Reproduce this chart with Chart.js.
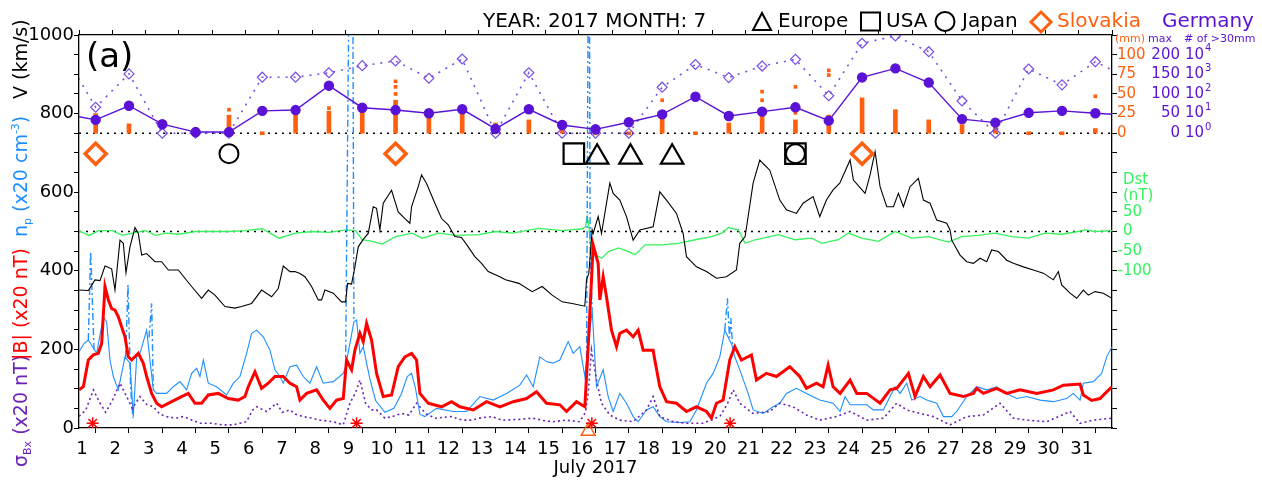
<!DOCTYPE html>
<html><head><meta charset="utf-8">
<script src="https://cdn.jsdelivr.net/npm/chart.js"></script>
<style>html,body{margin:0;padding:0;background:#fff;}canvas{display:block;}</style>
</head><body>
<canvas id="c" width="1262" height="482"></canvas>
<script>
// ---------------- data ----------------
const dayMin = 1, dayMax = 32;
const dayTicks = [1,2,3,4,5,6,7,8,9,10,11,12,13,14,15,16,17,18,19,20,21,22,23,24,25,26,27,28,29,30,31];

// solar wind speed V (km/s)
const vDay = [1.0,1.28,1.48,1.63,1.78,1.98,2.08,2.23,2.33,2.41,2.53,2.68,2.78,2.88,3.03,3.28,3.48,3.68,3.98,4.18,4.38,4.68,4.88,5.08,5.38,5.68,5.88,6.18,6.48,6.78,6.98,7.13,7.33,7.48,7.63,7.78,7.98,8.18,8.28,8.38,8.63,8.88,9.0,9.06,9.18,9.28,9.38,9.53,9.68,9.83,9.93,10.03,10.13,10.38,10.58,10.78,10.93,10.98,11.18,11.28,11.43,11.68,11.88,12.08,12.28,12.48,12.68,12.88,13.08,13.28,13.63,13.8,14.2,14.6,14.9,15.2,15.5,15.8,16.18,16.23,16.3,16.4,16.43,16.58,16.68,16.93,17.03,17.23,17.43,17.63,17.83,18.23,18.43,18.63,18.93,19.13,19.23,19.53,19.83,20.13,20.43,20.73,20.83,20.99,21.23,21.43,21.53,21.73,22.03,22.23,22.53,22.73,23.03,23.23,23.43,23.63,23.83,24.14,24.24,24.59,24.74,24.89,25.04,25.24,25.44,25.59,25.74,25.94,26.19,26.34,26.54,26.74,27.04,27.14,27.19,27.44,27.64,27.84,28.04,28.24,28.39,28.59,28.84,29.04,29.34,29.64,29.94,30.24,30.39,30.49,30.74,30.94,31.14,31.29,31.49,31.74,32.0];
const vKms = [351,350,377,375,412,405,351,478,470,395,461,510,495,440,444,423,423,402,402,381,360,330,351,338,309,305,309,317,351,334,355,412,398,398,393,385,360,326,326,351,343,321,321,368,366,410,461,480,495,563,559,504,572,605,550,533,521,563,614,644,622,572,533,517,487,485,461,436,419,398,385,377,368,347,360,338,321,317,310,377,394,504,495,538,495,623,597,580,538,478,504,512,601,580,546,495,436,410,398,381,385,402,470,487,623,682,673,656,580,555,546,572,589,538,580,606,623,682,631,597,644,703,614,563,563,597,563,614,635,580,572,529,521,504,478,440,423,419,432,423,453,449,427,419,410,402,394,377,398,364,343,330,351,338,347,343,330];

// proton density n_p (x20 cm^-3)
const npDay = [1.0,1.15,1.28,1.53,1.73,1.83,1.93,2.03,2.18,2.28,2.38,2.53,2.63,2.73,2.83,3.03,3.23,3.33,3.63,3.83,4.03,4.23,4.38,4.53,4.63,4.73,4.88,5.13,5.43,5.63,5.83,6.03,6.18,6.33,6.53,6.73,6.88,7.03,7.13,7.33,7.53,7.73,7.93,8.13,8.33,8.63,8.93,9.0,9.25,9.33,9.43,9.53,9.63,9.73,9.9,10.18,10.45,10.68,10.85,10.98,11.1,11.23,11.38,11.73,12.23,12.63,13.03,13.43,13.83,14.23,14.43,14.63,14.83,15.03,15.23,15.43,15.68,15.83,16.03,16.18,16.4,16.53,16.73,16.88,17.03,17.23,17.43,17.63,17.78,18.03,18.23,18.43,18.63,19.03,19.33,19.53,19.83,20.03,20.23,20.38,20.6,20.68,20.83,21.08,21.23,21.53,21.83,22.03,22.23,22.53,22.83,23.23,23.63,23.84,23.99,24.14,24.64,24.84,25.14,25.34,25.49,25.64,25.84,25.99,26.24,26.44,26.74,26.94,27.19,27.34,27.64,27.94,28.24,28.54,28.84,29.14,29.44,29.84,30.24,30.64,30.84,31.04,31.14,31.44,31.69,31.84,32.0];
const npX20 = [194,215,224,190,283,270,173,131,97,139,181,165,29,181,190,249,97,88,88,105,118,97,139,152,131,173,114,105,84,114,131,190,241,249,232,198,148,131,114,156,160,131,114,156,114,118,139,156,270,275,190,207,165,125,70,40,50,88,131,139,100,35,29,50,42,42,80,71,88,109,135,105,181,169,165,173,220,190,207,131,300,105,148,80,42,88,63,29,16,46,54,29,16,14,16,46,114,139,181,249,210,181,148,88,46,37,54,63,88,101,88,71,63,42,80,59,59,46,46,80,105,88,114,71,80,71,63,29,29,42,80,105,97,105,88,75,80,71,67,75,88,71,114,118,139,181,207];
// density spikes drawn dash-dot (null = break)
const npSpikeDay = [1.28,1.35,1.45,1.46, 2.40,2.47,2.55,2.62,2.63, 3.10,3.18,3.23,3.24, 9.0,9.12,9.13, 9.21,9.25,9.26, 16.23,16.29,16.30, 16.31,16.34,16.4,16.41, 20.38,20.46,20.52,20.56,20.62];
const npSpikeX20 = [224,449,200,null, 181,365,100,25,null, 230,317,97,null, 156,1300,null, 1300,275,null, 140,1300,null, 1300,453,300,null, 249,330,230,280,200];

// |B| (x20 nT)
const bDay = [1.0,1.13,1.28,1.43,1.58,1.68,1.78,1.88,1.98,2.08,2.18,2.38,2.48,2.58,2.78,2.93,3.03,3.18,3.33,3.48,3.78,4.08,4.28,4.48,4.68,4.88,5.18,5.48,5.78,5.98,6.08,6.28,6.48,6.68,6.88,7.13,7.33,7.53,7.63,7.83,8.13,8.33,8.53,8.73,8.93,9.03,9.18,9.28,9.43,9.53,9.63,9.78,9.93,10.13,10.38,10.58,10.78,10.98,11.13,11.23,11.48,11.88,12.18,12.43,12.83,13.23,13.63,14.03,14.43,14.73,15.03,15.43,15.63,15.93,16.18,16.28,16.38,16.43,16.58,16.63,16.73,16.83,16.98,17.13,17.23,17.43,17.63,17.78,17.93,18.23,18.28,18.43,18.63,18.93,19.23,19.53,19.83,19.98,20.13,20.33,20.53,20.68,20.88,21.18,21.33,21.63,21.93,22.33,22.63,22.83,23.13,23.33,23.48,23.63,23.84,24.14,24.34,24.64,25.04,25.34,25.54,25.89,26.09,26.34,26.54,26.84,27.14,27.54,27.84,27.94,28.14,28.54,28.84,29.24,29.74,30.24,30.54,31.04,31.14,31.39,31.64,31.84,32.0];
const bX20 = [97,105,173,186,190,215,360,326,304,300,283,232,181,173,190,165,131,88,63,54,67,80,88,63,63,84,88,75,71,80,105,143,101,114,131,131,114,105,71,88,97,71,50,71,75,173,148,198,241,220,266,224,139,80,84,156,181,190,173,88,63,54,67,54,46,67,54,67,75,92,63,59,42,67,54,207,377,465,419,326,385,334,249,207,241,249,232,249,198,198,173,105,67,63,42,54,42,25,63,71,173,207,173,186,122,139,131,156,131,101,114,105,160,105,88,122,88,88,63,97,101,139,80,131,105,135,88,80,88,101,88,101,88,97,88,97,109,112,84,70,75,92,105];

// sigma Bx (x20 nT)
const sDay = [1.0,1.2,1.43,1.63,1.8,2.0,2.23,2.43,2.6,2.83,3.03,3.23,3.43,3.63,3.9,4.13,4.4,4.63,5.0,5.3,5.63,6.03,6.2,6.33,6.63,6.93,7.1,7.33,7.5,7.73,8.0,8.23,8.63,8.93,9.13,9.3,9.43,9.6,9.78,9.93,10.18,10.4,10.68,10.9,11.13,11.4,11.68,12.18,12.5,12.78,13.0,13.38,13.7,14.23,14.6,15.0,15.23,15.6,16.03,16.2,16.28,16.38,16.53,16.68,16.93,17.23,17.63,18.03,18.23,18.43,18.83,19.23,19.73,20.23,20.45,20.63,20.83,21.23,21.73,22.03,22.43,22.83,23.23,23.73,24.14,24.64,25.14,25.54,25.84,26.24,26.64,27.14,27.64,28.14,28.64,29.04,29.44,30.04,30.74,31.04,31.44,32.0];
const sigX20 = [30,45,97,63,40,70,114,80,50,80,60,54,35,29,25,29,20,12,12,8,8,16,45,54,42,63,40,46,35,29,25,20,16,8,63,90,122,63,46,46,25,29,37,33,63,37,25,29,20,20,25,29,20,22,25,18,16,20,16,40,88,198,122,63,33,20,16,46,80,29,16,12,12,29,60,97,63,37,42,63,54,33,20,29,42,20,25,63,46,37,29,8,29,33,63,25,20,16,42,12,20,25];

// Dst (nT)
const dstDay = [1.0,1.3,1.6,2.0,2.3,2.6,3.0,3.3,3.6,4.0,4.5,5.0,5.5,6.0,6.5,7.0,7.5,8.0,8.5,9.0,9.3,9.5,9.8,10.1,10.5,11.0,11.3,11.8,12.3,13.0,13.5,14.0,14.8,15.5,16.1,16.2,16.25,16.3,16.35,16.49,16.69,16.89,17.19,17.49,17.69,17.99,18.49,18.99,19.49,19.99,20.29,20.49,20.79,20.99,21.29,21.99,22.49,22.99,23.29,23.79,24.09,24.49,24.99,25.49,25.99,26.49,27.09,27.49,27.99,28.49,28.99,29.49,29.99,30.49,30.99,31.19,31.49,32.0];
const dstNT = [2,-10,2,2,-10,-4,2,-10,-4,-7,0,0,0,2,7,-17,-4,0,-2,4,2,-21,-25,-32,-13,-4,-17,-4,-10,-8,0,-4,8,2,7,12,38,15,-35,-59,-68,-51,-42,-51,-59,-34,-34,-30,-21,-13,-4,10,4,-30,-21,-8,-21,-17,-30,-21,-4,-17,-25,0,-17,-13,-27,-13,-10,-4,-13,-17,-4,-7,0,4,0,2];

// Germany daily precipitation (day centres, incl. 30 June and 1 Aug at the edges)
const gerDays = [0.5,1.5,2.5,3.5,4.5,5.5,6.5,7.5,8.5,9.5,10.5,11.5,12.5,13.5,14.5,15.5,16.5,17.5,18.5,19.5,20.5,21.5,22.5,23.5,24.5,25.5,26.5,27.5,28.5,29.5,30.5,31.5,32.5];
const gerMaxMm = [50,34,70,23,3,3,57,59,121,65,59,51,61,11,61,21,10,28,48,93,44,55,66,32,142,165,129,36,27,52,57,51,46];
const gerCount30 = [15800,21,1050,1,1,1,710,710,1200,2750,4800,630,6000,1,1200,1,1,1,220,3160,680,2630,5750,81,38000,89000,14100,44,1,1860,290,4370,630];

// station precipitation (mm): dense column tops and isolated higher values
const precipDays = [1.5,2.5,3.5,4.5,5.5,6.5,7.5,8.5,9.5,10.5,11.5,12.5,13.5,14.5,15.5,16.5,17.5,18.5,19.5,20.5,21.5,22.5,23.5,24.5,25.5,26.5,27.5,28.5,29.5,30.5,31.5];
const precipMm = [25,12,null,null,23,1,23,28,30,42,28,32,13,17,16,2,2,25,1,13,28,17,23,45,30,17,11,8,1,1,6];
const precipDotDays = [5.5,8.5,10.5,10.5,10.5,18.5,21.5,21.5,22.5,22.5,23.5,23.5,31.5];
const precipDotMm = [30,32,50,59,66,42,42,53,26,59,74,80,47];

// event markers
const slovakiaDays = [1.5,10.5,24.5];
const japanDays = [5.5,22.5];
const usaDays = [15.85,22.5];
const europeDays = [16.55,17.55,18.8];
const sscDays = [1.41,9.33,16.39,20.54];
const triangleDays = [16.28];

// right-side tick labels
const mmTicks = [0,25,50,75,100];
const maxTicks = [0,50,100,150,200];
const cntExp = [0,1,2,3,4];
const dstTicks = [50,0,-50,-100];

// ---------------- styling ----------------
const ORANGE = '#ff6010', GREEN = '#36f25e', BLUE = '#1f8fff', RED = '#ff0000',
      SIG = '#6b22b5', GER = '#5a12d6', GER2 = '#7b4fe4';
const FAM = '"DejaVu Sans", sans-serif';
const MARK_LEVEL = 698, TRI_LEVEL = 689, SSC_LEVEL = 12, BOT_TRI_LEVEL = -8;

const pts = (xs, ys) => xs.map((x, i) => ({x, y: ys[i]}));
const lvl = (xs, v) => xs.map(x => ({x, y: v}));
const line = (o) => Object.assign({type:'line', pointRadius:0, borderWidth:1, tension:0, fill:false, xAxisID:'x', yAxisID:'y', spanGaps:false}, o);
const marks = (o) => Object.assign({type:'line', showLine:false, xAxisID:'x', yAxisID:'y', pointBackgroundColor:'rgba(0,0,0,0)'}, o);

const datasets = [
  marks({data: lvl(sscDays, SSC_LEVEL), pointStyle:'star', pointRadius:6, pointBorderColor:RED, pointBorderWidth:1.5, borderColor:RED}),
  marks({data: lvl(triangleDays, BOT_TRI_LEVEL), pointStyle:'triangle', pointRadius:8, pointBorderColor:ORANGE, pointBorderWidth:1.5, borderColor:ORANGE, clip:false}),
  marks({data: lvl(slovakiaDays, MARK_LEVEL), pointStyle:'rectRot', pointRadius:10.5, pointBorderColor:ORANGE, pointBorderWidth:3.5, borderColor:ORANGE}),
  marks({data: lvl(japanDays, MARK_LEVEL), pointStyle:'circle', pointRadius:9.5, pointBorderColor:'#000', pointBorderWidth:2, borderColor:'#000'}),
  marks({data: lvl(usaDays, MARK_LEVEL), pointStyle:'rect', pointRadius:14.5, pointBorderColor:'#000', pointBorderWidth:2.2, borderColor:'#000'}),
  marks({data: lvl(europeDays, TRI_LEVEL), pointStyle:'triangle', pointRadius:13, pointBorderColor:'#000', pointBorderWidth:2.2, borderColor:'#000'}),
  line({data: pts(gerDays, gerMaxMm), yAxisID:'yMax', borderColor:GER, borderWidth:1.4, pointRadius:4.5, pointStyle:'circle', pointBackgroundColor:GER, pointBorderColor:GER}),
  line({data: pts(gerDays, gerCount30), yAxisID:'yCnt', borderColor:GER2, borderWidth:1.6, borderDash:[2,6], pointRadius:5, pointStyle:'rectRot', pointBorderColor:GER2, pointBorderWidth:1.2, pointBackgroundColor:'rgba(0,0,0,0)'}),
  marks({data: pts(precipDotDays, precipDotMm), yAxisID:'yMm', pointStyle:'rect', pointRadius:2.6, pointBorderWidth:0, pointBackgroundColor:ORANGE, borderColor:ORANGE}),
  {type:'bar', xAxisID:'x', yAxisID:'yMm', data: precipDays.map((d,i)=>({x:d, y: precipMm[i]==null? null : [0, precipMm[i]]})).filter(p=>p.y!==null),
   backgroundColor:ORANGE, borderWidth:0, barThickness:4, minBarLength:3, grouped:false},
  line({data: pts(bDay, bX20), borderColor:RED, borderWidth:3}),
  line({data: pts(vDay, vKms), borderColor:'#000', borderWidth:1.1}),
  line({data: pts(sDay, sigX20), borderColor:SIG, borderWidth:1.6, borderDash:[2,3]}),
  line({data: pts(npSpikeDay, npSpikeX20), borderColor:BLUE, borderWidth:1.4, borderDash:[7,3,2,3]}),
  line({data: pts(npDay, npX20), borderColor:BLUE, borderWidth:1.1}),
  line({data: pts(dstDay, dstNT), yAxisID:'yDst', borderColor:GREEN, borderWidth:1.3}),
  line({data: [{x:dayMin,y:0},{x:dayMax,y:0}], yAxisID:'yMm', borderColor:'#000', borderWidth:1.3, borderDash:[2,5]}),
  line({data: [{x:dayMin,y:0},{x:dayMax,y:0}], yAxisID:'yDst', borderColor:'#000', borderWidth:1.3, borderDash:[2,5]})
];

const axisStyle = {
  grid:{drawOnChartArea:false, drawTicks:true, tickLength:5, color:'#000', tickColor:'#000', lineWidth:1},
  border:{display:true, color:'#000', width:1.3}
};

const annot = {
  id:'annot',
  afterDraw(chart){
    const c = chart.ctx, s = chart.scales;
    c.save();
    c.textAlign = 'left'; c.textBaseline = 'alphabetic';
    // header
    c.font = '20px ' + FAM; c.fillStyle = '#000';
    c.fillText('YEAR: 2017 MONTH: 7', 483, 27);
    c.strokeStyle = '#000'; c.lineWidth = 2;
    c.beginPath(); c.moveTo(753,30); c.lineTo(771,30); c.lineTo(762,13); c.closePath(); c.stroke();
    c.fillText('Europe', 778, 27);
    c.strokeRect(861, 12.5, 19, 18);
    c.fillText('USA', 886, 27);
    c.beginPath(); c.arc(945, 21.5, 9.5, 0, Math.PI*2); c.stroke();
    c.fillText('Japan', 962, 27);
    c.strokeStyle = ORANGE; c.lineWidth = 3;
    c.beginPath(); c.moveTo(1041,12); c.lineTo(1051,22); c.lineTo(1041,32); c.lineTo(1031,22); c.closePath(); c.stroke();
    c.fillStyle = ORANGE; c.fillText('Slovakia', 1057, 27);
    c.fillStyle = GER; c.fillText('Germany', 1162, 27);
    // panel tag
    c.fillStyle = '#000'; c.font = '34px ' + FAM; c.fillText('(a)', 86, 67);

    // left rotated axis title
    const vtext = (pieces, x, y0) => {
      c.save(); c.translate(x, y0); c.rotate(-Math.PI/2);
      let p = 0;
      for (const q of pieces){ c.font = q.size + 'px ' + FAM; c.fillStyle = q.color; c.fillText(q.t, p, q.dy||0); p += c.measureText(q.t).width; }
      c.restore();
    };
    vtext([{t:'σ',size:19,color:SIG},{t:'Bx',size:11,dy:4,color:SIG},{t:' (x20 nT)',size:19,color:SIG}], 27, 467);
    vtext([{t:'|B| (x20 nT)',size:19,color:RED}], 27, 360);
    vtext([{t:'n',size:19,color:BLUE},{t:'p',size:11,dy:4,color:BLUE},{t:' (x20 cm',size:19,color:BLUE},{t:'-3',size:11,dy:-8,color:BLUE},{t:')',size:19,color:BLUE}], 27, 237);
    vtext([{t:'V (km/s)',size:19,color:'#000'}], 27, 99);

    // right-side labels
    c.textBaseline = 'middle';
    c.font = '11px ' + FAM;
    c.fillStyle = ORANGE; c.fillText('(mm)', 1115, 39);
    c.fillStyle = GER; c.fillText('max', 1148, 39); c.fillText('# of >30mm', 1184, 39);
    c.font = '15px ' + FAM;
    for (const v of mmTicks){ c.fillStyle = ORANGE; c.textAlign='left'; c.fillText(String(v), 1117, s.yMm.getPixelForValue(v)); }
    for (const m of maxTicks){ c.fillStyle = GER; c.textAlign='right'; c.fillText(String(m), 1180, s.yMax.getPixelForValue(m)); }
    for (const k of cntExp){
      const y = s.yCnt.getPixelForValue(Math.pow(10,k));
      c.fillStyle = GER; c.textAlign='left'; c.font = '15px ' + FAM;
      c.fillText('10', 1185, y);
      const w = c.measureText('10').width;
      c.font = '10px ' + FAM; c.fillText(String(k), 1185 + w + 1, y - 6);
    }
    c.font = '15px ' + FAM; c.fillStyle = GREEN; c.textAlign = 'left';
    c.fillText('Dst', 1123, 180); c.fillText('(nT)', 1123, 196);
    for (const d of dstTicks){
      const y = s.yDst.getPixelForValue(d);
      if (d < 0){ const mw = c.measureText('-').width; c.fillText('-' + Math.abs(d), 1123 - mw, y); }
      else c.fillText(String(d), 1123, y);
    }
    c.restore();
  }
};

new Chart(document.getElementById('c'), {
  type:'line',
  data:{datasets},
  options:{
    responsive:false, animation:false, devicePixelRatio:1,
    layout:{padding:0, autoPadding:false},
    plugins:{legend:{display:false}, tooltip:{enabled:false}},
    scales:{
      x:Object.assign({type:'linear', position:'bottom', min:dayMin, max:dayMax, offset:false,
        ticks:{stepSize:1, autoSkip:false, maxRotation:0, padding:6, labelOffset:3, color:'#000', font:{family:FAM,size:18},
          callback:(v)=> dayTicks.includes(v) ? String(v) : ''},
        title:{display:true, text:'July 2017', color:'#000', font:{family:FAM,size:18}, padding:{top:0,bottom:3}},
        afterFit:(sc)=>{sc.height = 54;}}, axisStyle),
      x2:Object.assign({type:'linear', axis:'x', position:'top', min:dayMin, max:dayMax, offset:false,
        ticks:{stepSize:1, display:false}, afterFit:(sc)=>{sc.height = 35;}}, axisStyle),
      y:Object.assign({type:'linear', position:'left', min:0, max:1000,
        ticks:{stepSize:50, autoSkip:false, padding:0, color:'#000', font:{family:FAM,size:18},
          callback:(v)=> v % 200 === 0 ? String(v) : ''},
        afterFit:(sc)=>{sc.width = 79;}}, axisStyle),
      y2:Object.assign({type:'linear', axis:'y', position:'right', min:0, max:1000,
        ticks:{stepSize:50, autoSkip:false, callback:()=>''},
        afterFit:(sc)=>{sc.width = 150;}}, axisStyle),
      yMm:{type:'linear', axis:'y', display:false, min:-375, max:125},
      yMax:{type:'linear', axis:'y', display:false, min:-750, max:250},
      yCnt:{type:'logarithmic', axis:'y', display:false, min:1e-15, max:1e5},
      yDst:{type:'linear', axis:'y', display:false, min:-500, max:500}
    }
  },
  plugins:[annot]
});
</script>
</body></html>
